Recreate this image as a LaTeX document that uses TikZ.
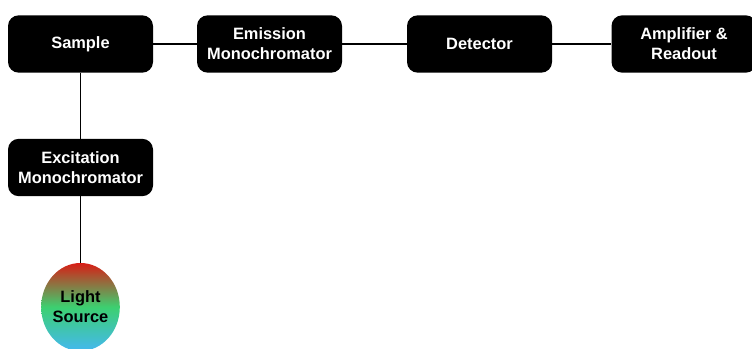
\documentclass[tikz,border=0pt]{standalone}
\usepackage{fontspec}
\setmainfont{Liberation Sans}
\usetikzlibrary{shapes.geometric}
\definecolor{lsred}{HTML}{D81E16}
\definecolor{lsgreen}{HTML}{3CD070}
\definecolor{lsblue}{HTML}{44B8F0}
\tikzset{
  blk/.style={fill=black, text=white, rounded corners=8pt, minimum width=108.75pt, minimum height=43pt, align=center, font=\fontsize{12.3}{15}\selectfont\bfseries, inner sep=0pt},
  lsrc/.style={ellipse, minimum width=58.5pt, minimum height=66pt, top color=lsred, bottom color=lsblue, middle color=lsgreen, align=center, font=\fontsize{12.3}{15}\selectfont\bfseries, inner sep=0pt},
  wire/.style={line width=1.2pt}
}
\begin{document}
\begin{tikzpicture}[x=0.75pt, y=-0.75pt]
\useasboundingbox (0,0) rectangle (752,349);
\node[blk] (sample) at (80.5,44){Sample};
\node[blk] (emis) at (269.5,44){Emission\\Monochromator};
\node[blk] (det) at (479.5,44){Detector};
\node[blk] (amp) at (684,44){Amplifier \&\\Readout};
\node[blk] (exc) at (80.5,167.5){Excitation\\Monochromator};
\node[lsrc] (light) at (80.5,307){Light\\Source};
\draw[wire](sample) -- (emis);
\draw[wire](emis) -- (det);
\draw[wire](det) -- (amp);
\draw[wire](sample) -- (exc);
\draw[wire](exc) -- (light);
\end{tikzpicture}
\end{document}
